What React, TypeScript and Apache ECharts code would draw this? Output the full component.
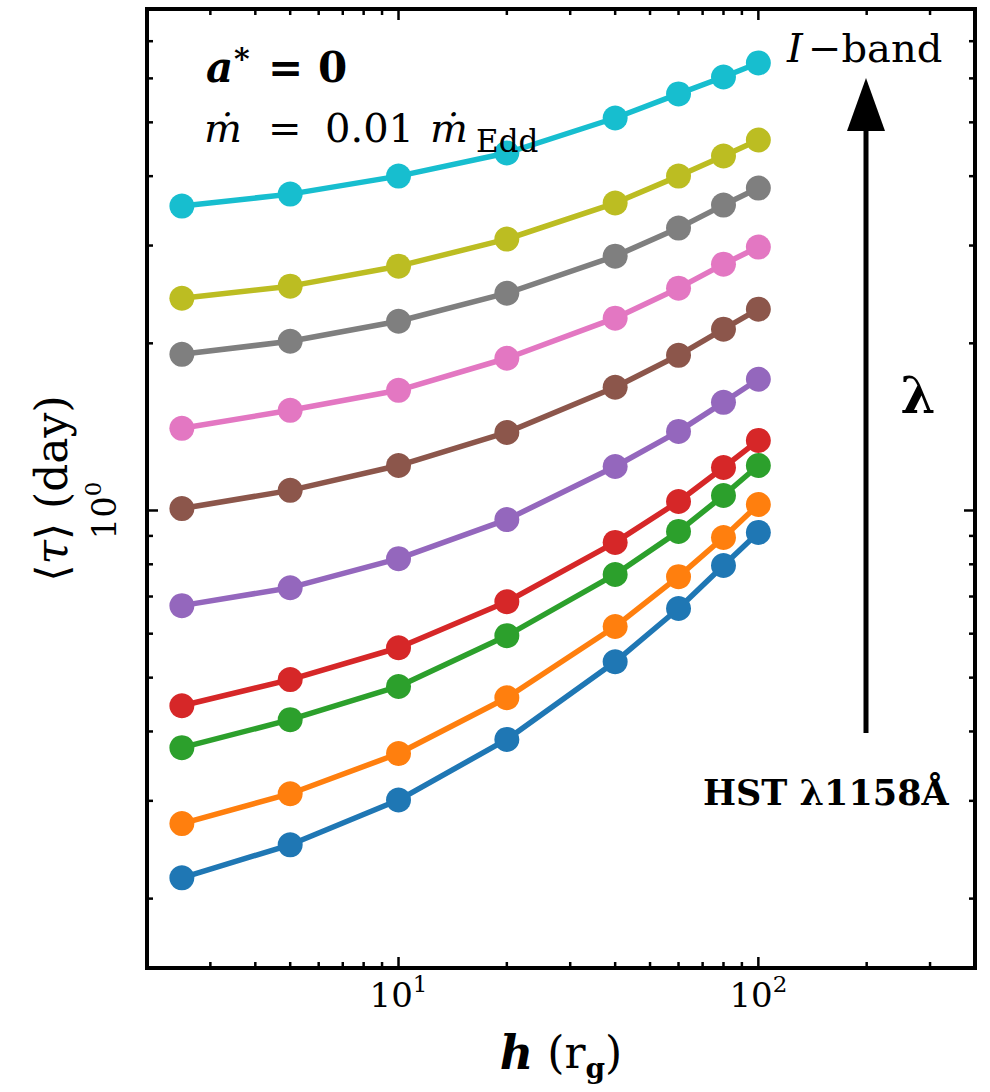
import React, { useEffect, useRef } from 'react';
import * as echarts from 'echarts';

// ---------------- data ----------------
const hValues = [2.5, 5, 10, 20, 40, 60, 80, 100];
const tauHST1158 = [0.218, 0.250, 0.301, 0.387, 0.534, 0.666, 0.796, 0.913];
const tauBand2 = [0.273, 0.309, 0.365, 0.460, 0.618, 0.760, 0.894, 1.025];
const tauBand3 = [0.374, 0.420, 0.482, 0.595, 0.767, 0.917, 1.064, 1.205];
const tauBand4 = [0.445, 0.496, 0.566, 0.685, 0.876, 1.038, 1.195, 1.337];
const tauBand5 = [0.674, 0.726, 0.819, 0.963, 1.200, 1.388, 1.566, 1.723];
const tauBand6 = [1.008, 1.087, 1.205, 1.382, 1.667, 1.903, 2.121, 2.304];
const tauBand7 = [1.406, 1.515, 1.646, 1.880, 2.220, 2.514, 2.777, 2.981];
const tauBand8 = [1.911, 2.017, 2.192, 2.462, 2.871, 3.225, 3.548, 3.807];
const tauBand9 = [2.411, 2.535, 2.754, 3.081, 3.578, 4.001, 4.348, 4.647];
const tauIBand = [3.533, 3.713, 4.001, 4.403, 5.091, 5.626, 6.035, 6.397];

const seriesNames = ['HST 1158', 'band 2', 'band 3', 'band 4', 'band 5', 'band 6', 'band 7', 'band 8', 'band 9', 'I-band'];
const seriesColors = ['#1f77b4', '#ff7f0e', '#2ca02c', '#d62728', '#9467bd', '#8c564b', '#e377c2', '#7f7f7f', '#bcbd22', '#17becf'];
const seriesValues = [tauHST1158, tauBand2, tauBand3, tauBand4, tauBand5, tauBand6, tauBand7, tauBand8, tauBand9, tauIBand];

const xMin = 2;
const xMax = 400;
const yMin = 0.15;
const yMax = 8;
const xMajorTicks = [10, 100];
const xMinorTicks = [3, 4, 5, 6, 7, 8, 9, 20, 30, 40, 50, 60, 70, 80, 90, 200, 300];
const yMajorTicks = [1];
const yMinorTicks = [0.2, 0.3, 0.4, 0.5, 0.6, 0.7, 0.8, 0.9, 2, 3, 4, 5, 6, 7];

const SERIF = 'DejaVu Serif';

const isPow10 = (v: number) => {
  const l = Math.log10(v);
  return Math.abs(l - Math.round(l)) < 1e-6;
};

const tickRich = {
  b: { fontFamily: SERIF, fontSize: 34, lineHeight: 40, verticalAlign: 'bottom', color: '#000' },
  s: { fontFamily: SERIF, fontSize: 23, lineHeight: 22, verticalAlign: 'top', color: '#000' },
};

const txt = (text: string, x: number, y: number, size: number, extra: any = {}) => ({
  type: 'text',
  x,
  y,
  z: 50,
  style: {
    text,
    fontFamily: SERIF,
    fontSize: size,
    fontWeight: extra.weight || 'normal',
    fontStyle: extra.style || 'normal',
    align: extra.align || 'left',
    verticalAlign: 'middle',
    fill: '#000',
  },
});

export default function App() {
  const ref = useRef<HTMLDivElement>(null);

  useEffect(() => {
    if (!ref.current) return;
    const chart = echarts.init(ref.current, undefined, { renderer: 'svg' });

    const lineSeries = seriesValues.map((vals, idx) => ({
      name: seriesNames[idx],
      type: 'line',
      data: hValues.map((h, i) => [h, vals[i]]),
      symbol: 'circle',
      symbolSize: 25,
      showSymbol: true,
      lineStyle: { width: 5.5, color: seriesColors[idx] },
      itemStyle: { color: seriesColors[idx] },
      z: 3 + idx,
      silent: true,
    }));

    const xTickData = xMajorTicks.map((v) => [v, 1, 1]).concat(xMinorTicks.map((v) => [v, 1, 0]));
    const yTickData = yMajorTicks.map((v) => [10, v, 1]).concat(yMinorTicks.map((v) => [10, v, 0]));

    const tickStyle = { stroke: '#000', lineWidth: 2.5 };

    const xTickSeries = {
      type: 'custom',
      coordinateSystem: 'cartesian2d',
      data: xTickData,
      encode: { x: 0, y: 1 },
      silent: true,
      z: 20,
      renderItem: (params: any, api: any) => {
        const cs = params.coordSys;
        const v = api.value(0);
        const len = api.value(2) === 1 ? 11 : 6;
        const px = api.coord([v, 1])[0];
        const top = cs.y;
        const bottom = cs.y + cs.height;
        return {
          type: 'group',
          children: [
            { type: 'line', shape: { x1: px, y1: bottom, x2: px, y2: bottom - len }, style: tickStyle },
            { type: 'line', shape: { x1: px, y1: top, x2: px, y2: top + len }, style: tickStyle },
          ],
        };
      },
    };

    const yTickSeries = {
      type: 'custom',
      coordinateSystem: 'cartesian2d',
      data: yTickData,
      encode: { x: 0, y: 1 },
      silent: true,
      z: 20,
      renderItem: (params: any, api: any) => {
        const cs = params.coordSys;
        const v = api.value(1);
        const len = api.value(2) === 1 ? 11 : 6;
        const py = api.coord([10, v])[1];
        const left = cs.x;
        const right = cs.x + cs.width;
        return {
          type: 'group',
          children: [
            { type: 'line', shape: { x1: left, y1: py, x2: left + len, y2: py }, style: tickStyle },
            { type: 'line', shape: { x1: right, y1: py, x2: right - len, y2: py }, style: tickStyle },
          ],
        };
      },
    };

    const option: any = {
      animation: false,
      backgroundColor: '#fff',
      grid: {
        left: 147,
        right: 15,
        top: 9,
        bottom: 124,
        show: true,
        borderColor: '#000',
        borderWidth: 4,
        backgroundColor: 'transparent',
        containLabel: false,
      },
      xAxis: {
        type: 'log',
        logBase: 10,
        min: xMin,
        max: xMax,
        axisLine: { show: false },
        axisTick: { show: false },
        splitLine: { show: false },
        minorTick: { show: false },
        axisLabel: {
          margin: 4,
          showMinLabel: false,
          showMaxLabel: false,
          formatter: (v: number) => (isPow10(v) ? `{b|10}{s|${Math.round(Math.log10(v))}}` : ''),
          rich: tickRich,
        },
        name: '{hi|h}{n| (r}{sub|g}{n|)}',
        nameLocation: 'middle',
        nameGap: 62,
        nameTextStyle: {
          rich: {
            hi: { fontFamily: SERIF, fontSize: 46, fontWeight: 'bold', fontStyle: 'italic', lineHeight: 52, verticalAlign: 'top', color: '#000' },
            n: { fontFamily: SERIF, fontSize: 44, lineHeight: 52, verticalAlign: 'top', color: '#000' },
            sub: { fontFamily: SERIF, fontSize: 28, fontWeight: 'bold', lineHeight: 52, verticalAlign: 'bottom', color: '#000' },
          },
        },
      },
      yAxis: {
        type: 'log',
        logBase: 10,
        min: yMin,
        max: yMax,
        axisLine: { show: false },
        axisTick: { show: false },
        splitLine: { show: false },
        minorTick: { show: false },
        axisLabel: {
          rotate: 90,
          margin: 26,
          showMinLabel: false,
          showMaxLabel: false,
          formatter: (v: number) => (isPow10(v) ? `{b|10}{s|${Math.round(Math.log10(v))}}` : ''),
          rich: tickRich,
        },
        name: '{n|⟨}{i|τ}{n|⟩ (day)}',
        nameLocation: 'middle',
        nameRotate: 90,
        nameGap: 64,
        nameTextStyle: {
          rich: {
            n: { fontFamily: SERIF, fontSize: 44, lineHeight: 52, color: '#000' },
            i: { fontFamily: SERIF, fontSize: 44, fontStyle: 'italic', lineHeight: 52, color: '#000' },
          },
        },
      },
      series: [...lineSeries, xTickSeries, yTickSeries],
      graphic: [
        // a* = 0
        txt('a', 206, 67, 42, { weight: 'bold', style: 'italic' }),
        txt('*', 234, 58, 30, { weight: 'bold' }),
        txt('=', 268, 67, 42, { weight: 'bold' }),
        txt('0', 318, 67, 42, { weight: 'bold' }),
        // m-dot = 0.01 m-dot_Edd
        txt('ṁ', 204, 128, 40, { style: 'italic' }),
        txt('=', 268, 128, 40),
        txt('0.01', 325, 128, 40),
        txt('ṁ', 430, 128, 40, { style: 'italic' }),
        txt('Edd', 476, 141, 31),
        // I-band
        txt('I', 787, 48, 40, { style: 'italic' }),
        txt('−band', 808, 48, 40),
        {
          type: 'line',
          z: 50,
          shape: { x1: 866, y1: 733, x2: 866, y2: 125 },
          style: { stroke: '#000', lineWidth: 5 },
        },
        {
          type: 'polygon',
          z: 50,
          shape: { points: [[866, 78], [847, 131], [885, 131]] },
          style: { fill: '#000' },
        },
        txt('λ', 918, 395, 50, { weight: 'bold', align: 'center' }),
        txt('HST λ1158Å', 703, 792, 35, { weight: 'bold' }),
      ],
    };

    chart.setOption(option);
    return () => {
      chart.dispose();
    };
  }, []);

  return (
    <div
      ref={ref}
      style={{ position: 'fixed', left: 0, top: 0, width: 990, height: 1092, background: '#fff' }}
    />
  );
}
